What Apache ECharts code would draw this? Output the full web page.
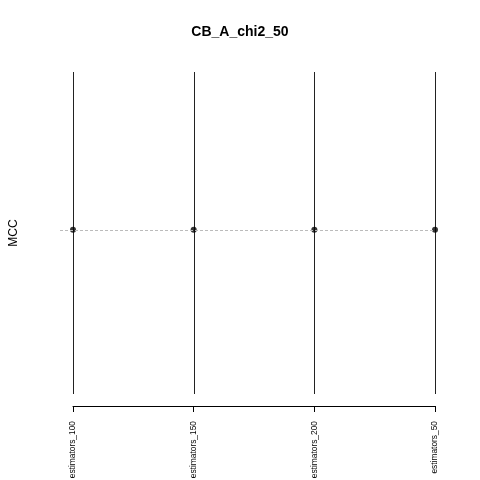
<!DOCTYPE html>
<html><head><meta charset="utf-8">
<script src="https://cdn.jsdelivr.net/npm/echarts@6/dist/echarts.min.js"></script>
<style>html,body{margin:0;padding:0;background:#fff}#c{width:480px;height:480px}</style>
</head><body><div id="c"></div>
<script>
const categories = ['estimators_100', 'estimators_150', 'estimators_200', 'estimators_50'];
const mccMean = [0.02, 0.02, 0.02, 0.02];
const mccLow = [-1, -1, -1, -1];
const mccHigh = [1, 1, 1, 1];
const refValue = 0.02;
const titleText = 'CB_A_chi2_50';
const yName = 'MCC';

const chart = echarts.init(document.getElementById('c'));
const font = 'Liberation Sans, Arial, sans-serif';
chart.setOption({
  animation: false,
  backgroundColor: '#fff',
  title: { text: titleText, left: 'center', top: 20, textStyle: { fontFamily: font, fontSize: 14, fontWeight: 'bold', color: '#000' } },
  grid: [
    { left: 60, right: 45, top: 72, bottom: 86, containLabel: false, outerBoundsMode: 'none' },
    { left: 73, right: 45, top: 72, bottom: 86, containLabel: false, outerBoundsMode: 'none' }
  ],
  xAxis: [
    { gridIndex: 0, type: 'value', min: 0, max: 1, show: false },
    { gridIndex: 1, type: 'category', data: categories, boundaryGap: false, offset: 12,
      axisLine: { onZero: false, lineStyle: { color: '#000', width: 1 } },
      axisTick: { length: 6, lineStyle: { color: '#000' } },
      axisLabel: { rotate: 90, fontFamily: font, fontSize: 8.4, color: '#000', margin: 15 },
      splitLine: { show: false } }
  ],
  yAxis: [
    { gridIndex: 0, type: 'value', min: -1, max: 1, show: false },
    { gridIndex: 1, type: 'value', min: -1, max: 1,
      name: yName, nameLocation: 'middle', nameRotate: 90, nameGap: 53,
      nameTextStyle: { fontFamily: font, fontSize: 12, color: '#000' },
      axisLine: { show: false }, axisTick: { show: false }, axisLabel: { show: false }, splitLine: { show: false } }
  ],
  series: [
    { type: 'line', xAxisIndex: 0, yAxisIndex: 0, data: [], silent: true,
      markLine: { symbol: 'none', silent: true, label: { show: false },
        lineStyle: { color: '#bbb', type: [3, 2], width: 1 },
        data: [{ yAxis: refValue }] } },
    { type: 'custom', xAxisIndex: 1, yAxisIndex: 1,
      data: categories.map((c, i) => [i, mccLow[i], mccHigh[i]]),
      renderItem: function (params, api) {
        const a = api.coord([api.value(0), api.value(1)]);
        const b = api.coord([api.value(0), api.value(2)]);
        const x = Math.round(a[0]) + 0.5;
        return { type: 'line', shape: { x1: x, y1: a[1], x2: x, y2: b[1] },
          style: { stroke: '#222', lineWidth: 1 } };
      } },
    { type: 'scatter', xAxisIndex: 1, yAxisIndex: 1, data: mccMean, symbol: 'circle', symbolSize: 6,
      itemStyle: { color: '#000' } }
  ]
});
</script></body></html>
